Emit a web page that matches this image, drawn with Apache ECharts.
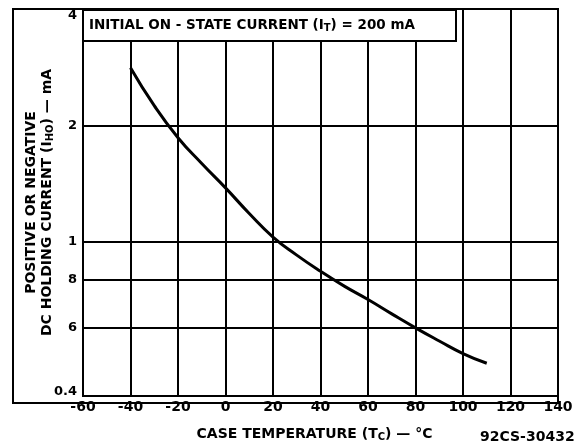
<!DOCTYPE html>
<html>
<head>
<meta charset="utf-8">
<script src="https://cdn.jsdelivr.net/npm/echarts@6/dist/echarts.min.js"></script>
<style>
  html, body { margin: 0; padding: 0; background: #fff; }
  #main { width: 585px; height: 447px; }
</style>
</head>
<body>
<div id="main"></div>
<script>
// case temperature (deg C) and holding current (mA)
const temps = [-40, -30, -20, -10, 0, 10, 20, 30, 40, 50, 60, 70, 80, 90, 100, 110];
const current = [2.82, 2.25, 1.86, 1.595, 1.38, 1.185, 1.03, 0.925, 0.84, 0.769, 0.71, 0.652, 0.60, 0.555, 0.515, 0.486];

const yTicks = [0.4, 0.6, 0.8, 1, 2, 4];
const yTickLabels = ["{lo|0.4}", "6", "8", "1", "2", "{hi|4}"];

const font = "DejaVu Sans";
const sub = { fontFamily: font, fontWeight: "bold", fontSize: 10, color: "#000", padding: [6, 0, 0, 0] };

let myChart = echarts.init(document.getElementById("main"));
let option = {
  animation: false,
  backgroundColor: "#fff",
  title: {
    text: "INITIAL ON - STATE CURRENT (I{s|T}) = 200 mA",
    left: 83,
    top: 9,
    padding: [8, 41, 8, 6],
    backgroundColor: "#fff",
    borderColor: "#000",
    borderWidth: 2,
    textStyle: {
      fontFamily: font,
      fontWeight: "bold",
      fontSize: 13.5,
      color: "#000",
      rich: { s: sub },
    },
  },
  grid: {
    left: 83,
    right: 27,
    top: 9,
    bottom: 45,
    show: true,
    borderColor: "#000",
    borderWidth: 2,
  },
  xAxis: {
    type: "value",
    min: -60,
    max: 140,
    interval: 20,
    name: "CASE TEMPERATURE (T{s|C}) — °C",
    nameLocation: "middle",
    nameGap: 30,
    nameTextStyle: {
      fontFamily: font, fontWeight: "bold", fontSize: 14, color: "#000", padding: [0, 12, 0, 0],
      rich: { s: sub },
    },
    axisLine: { show: false },
    axisTick: { show: false },
    axisLabel: { fontFamily: font, fontWeight: "bold", fontSize: 14, color: "#000", margin: 4 },
    splitLine: { show: true, lineStyle: { color: "#000", width: 2 } },
  },
  yAxis: {
    type: "log",
    logBase: 10,
    min: 0.4,
    max: 4,
    name: "POSITIVE OR NEGATIVE\nDC HOLDING CURRENT (I{s|HO}) — mA",
    nameLocation: "middle",
    nameRotate: 90,
    nameGap: 28,
    nameMoveOverlap: false,
    nameTextStyle: {
      fontFamily: font, fontWeight: "bold", fontSize: 14, color: "#000", lineHeight: 16,
      rich: { s: sub },
    },
    axisLine: { show: false },
    axisTick: { show: false, customValues: yTicks },
    axisLabel: {
      customValues: yTicks,
      fontFamily: font, fontWeight: "bold", fontSize: 13, color: "#000", margin: 6,
      formatter: (v) => {
        let i = yTicks.findIndex((t) => Math.abs(t - v) < 1e-6);
        return i >= 0 ? yTickLabels[i] : "";
      },
      rich: {
        hi: { fontFamily: font, fontWeight: "bold", fontSize: 13, color: "#000", padding: [14, 0, 0, 0] },
        lo: { fontFamily: font, fontWeight: "bold", fontSize: 13, color: "#000", padding: [0, 0, 8, 0] },
      },
    },
    splitLine: { show: true, lineStyle: { color: "#000", width: 2 } },
  },
  graphic: [
    {
      type: "rect",
      shape: { x: 13, y: 9, width: 545, height: 394 },
      style: { fill: null, stroke: "#000", lineWidth: 2 },
      z: 1,
    },
    {
      type: "text",
      x: 480,
      y: 430,
      style: { text: "92CS-30432", font: "bold 14px DejaVu Sans", fill: "#000" },
    },
  ],
  series: [
    {
      type: "line",
      data: temps.map((t, i) => [t, current[i]]),
      smooth: 0.5,
      showSymbol: false,
      lineStyle: { color: "#000", width: 3 },
      z: 3,
    },
  ],
};
myChart.setOption(option);
</script>
</body>
</html>
